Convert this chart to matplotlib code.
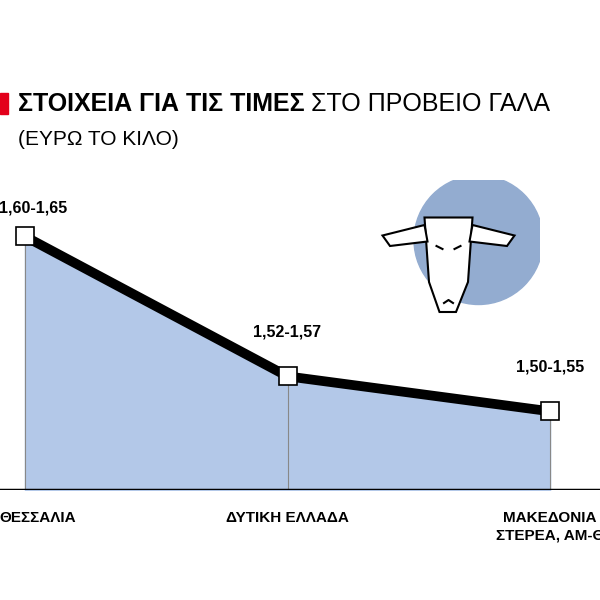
import matplotlib.pyplot as plt
from matplotlib.patches import Circle, Rectangle

regions = ["ΘΕΣΣΑΛΙΑ", "ΔΥΤΙΚΗ ΕΛΛΑΔΑ", "ΜΑΚΕΔΟΝΙΑ\nΣΤΕΡΕΑ, ΑΜ-Θ"]
low = [1.60, 1.52, 1.50]
high = [1.65, 1.57, 1.55]
labels = ["1,60-1,65", "1,52-1,57", "1,50-1,55"]
mid = [(a + b) / 2 for a, b in zip(low, high)]
x = [0, 1, 2]

plt.rcParams['font.family'] = ['Liberation Sans Narrow', 'Liberation Sans', 'DejaVu Sans']
fig = plt.figure(figsize=(6, 6), dpi=100)

# sheep badge (behind)
axs = fig.add_axes([0.6, 0.45, 0.3, 0.25])
axs.axis('off'); axs.set_xlim(0, 12); axs.set_ylim(0, 10); axs.set_aspect('equal')
axs.add_patch(Circle((7.9, 6.0), 4.3, color='#93acd0', zorder=0))
axs.fill([4.3, 7.5, 7.2, 6.4, 5.3, 4.6], [7.5, 7.5, 3.2, 1.2, 1.2, 3.2], color='white', ec='black', lw=1.5, zorder=2)
axs.fill([4.3, 1.5, 2.0, 4.5], [7.0, 6.3, 5.6, 5.9], color='white', ec='black', lw=1.5, zorder=2)
axs.fill([7.5, 10.3, 9.8, 7.3], [7.0, 6.3, 5.6, 5.9], color='white', ec='black', lw=1.5, zorder=2)
axs.plot([5.1, 5.5], [5.6, 5.4], color='black', lw=1.5, zorder=3)
axs.plot([6.3, 6.7], [5.4, 5.6], color='black', lw=1.5, zorder=3)
axs.plot([5.6, 5.9, 6.2], [1.8, 2.0, 1.8], color='black', lw=1.5, zorder=3)

ax = fig.add_axes([0, 0.1833, 1, 0.65])
ax.patch.set_alpha(0)
ax.set_xlim(-0.095, 2.19)
ax.set_ylim(1.48, 1.703)
ax.axis('off')

ax.fill_between(x, mid, 1.48, color='#b3c8e8', zorder=1)
for xi, yi in zip(x, mid):
    ax.plot([xi, xi], [1.48, yi], color='#888888', lw=0.8, zorder=2)
ax.plot(x, mid, color='black', lw=7, zorder=3, solid_joinstyle='miter')
ax.plot(x, mid, ls='none', marker='s', ms=13, mfc='white', mec='black', mew=1.2, zorder=4)
ax.axhline(1.48, color='black', lw=2.5, zorder=5)

offs = [(0.03, 0.012), (0, 0.021), (0, 0.021)]
for xi, yi, lab, (dx, dy) in zip(x, mid, labels, offs):
    ax.text(xi + dx, yi + dy, lab, ha='center', va='bottom', fontsize=11.5, fontweight='bold')
for xi, r in zip(x, regions):
    ax.text(xi + (0.05 if xi == 0 else 0), 1.48 - 0.012, r, ha='center', va='top',
            fontsize=11, fontweight='bold', linespacing=1.3)

fig.patches.append(Rectangle((0, 0.81), 0.013, 0.035, transform=fig.transFigure, color='#e3001b'))
t1 = fig.text(0.03, 0.827, "ΣΤΟΙΧΕΙΑ ΓΙΑ ΤΙΣ ΤΙΜΕΣ", fontsize=18, fontweight='bold', va='center')
fig.canvas.draw()
bb = t1.get_window_extent().transformed(fig.transFigure.inverted())
fig.text(bb.x1 + 0.01, 0.827, "ΣΤΟ ΠΡΟΒΕΙΟ ΓΑΛΑ", fontsize=18, va='center')
fig.text(0.03, 0.768, "(ΕΥΡΩ ΤΟ ΚΙΛΟ)", fontsize=15, va='center')
fig.savefig('out.png')
